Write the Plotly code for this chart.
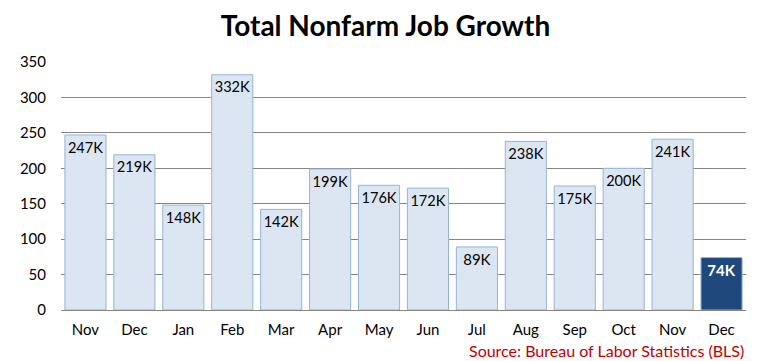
import plotly.graph_objects as go

months = ["Nov", "Dec", "Jan", "Feb", "Mar", "Apr", "May", "Jun", "Jul", "Aug", "Sep", "Oct", "Nov", "Dec"]
jobs = [247, 219, 148, 332, 142, 199, 176, 172, 89, 238, 175, 200, 241, 74]
labels = [f"{v}K" for v in jobs]

xpos = list(range(len(months)))
fills = ["#dce6f2"] * (len(jobs) - 1) + ["#1f497d"]
lines = ["#95b3d7"] * len(jobs)
tcolors = ["#000000"] * (len(jobs) - 1) + ["#ffffff"]
texts = labels[:-1] + [f"<b>{labels[-1]}</b>"]

FONT = "Lato, 'Open Sans', sans-serif"

W, H = 755, 353  # page body adds 8px at top/left

fig = go.Figure(go.Bar(
    x=xpos, y=jobs, text=texts,
    textposition="inside", insidetextanchor="end",
    textangle=0,
    textfont=dict(family=FONT, size=15, color=tcolors),
    marker=dict(color=fills, line=dict(color=lines, width=1)),
    cliponaxis=False,
    hoverinfo="skip",
))

fig.update_layout(
    width=W, height=H,
    margin=dict(l=44, r=17, t=54, b=51),
    paper_bgcolor="white", plot_bgcolor="white",
    bargap=0.16,
    showlegend=False,
    title=dict(text="<b>Total Nonfarm Job Growth</b>", x=0.5, xanchor="center",
               y=1 - 18 / H, yanchor="middle",
               font=dict(family=FONT, size=28, color="#000000")),
    uniformtext=dict(minsize=8, mode=False),
    annotations=[dict(text="Source: Bureau of Labor Statistics (BLS)", xref="paper", yref="paper",
                      x=1.0, y=-0.163, xanchor="right", yanchor="middle", showarrow=False,
                      font=dict(family=FONT, size=16, color="#c00000"))],
)
fig.update_xaxes(tickvals=xpos, ticktext=months, range=[-0.5, len(months) - 0.5],
                 showgrid=False, showline=False, ticks="", ticklabelstandoff=9,
                 tickfont=dict(family=FONT, size=15, color="#000000"))
fig.update_yaxes(range=[0, 350], dtick=50, showgrid=True, gridcolor="#868686", gridwidth=1,
                 zeroline=True, zerolinecolor="#868686", zerolinewidth=1,
                 ticks="", ticklabelstandoff=14,
                 tickfont=dict(family=FONT, size=15, color="#000000"))

fig.write_html("out.html")
